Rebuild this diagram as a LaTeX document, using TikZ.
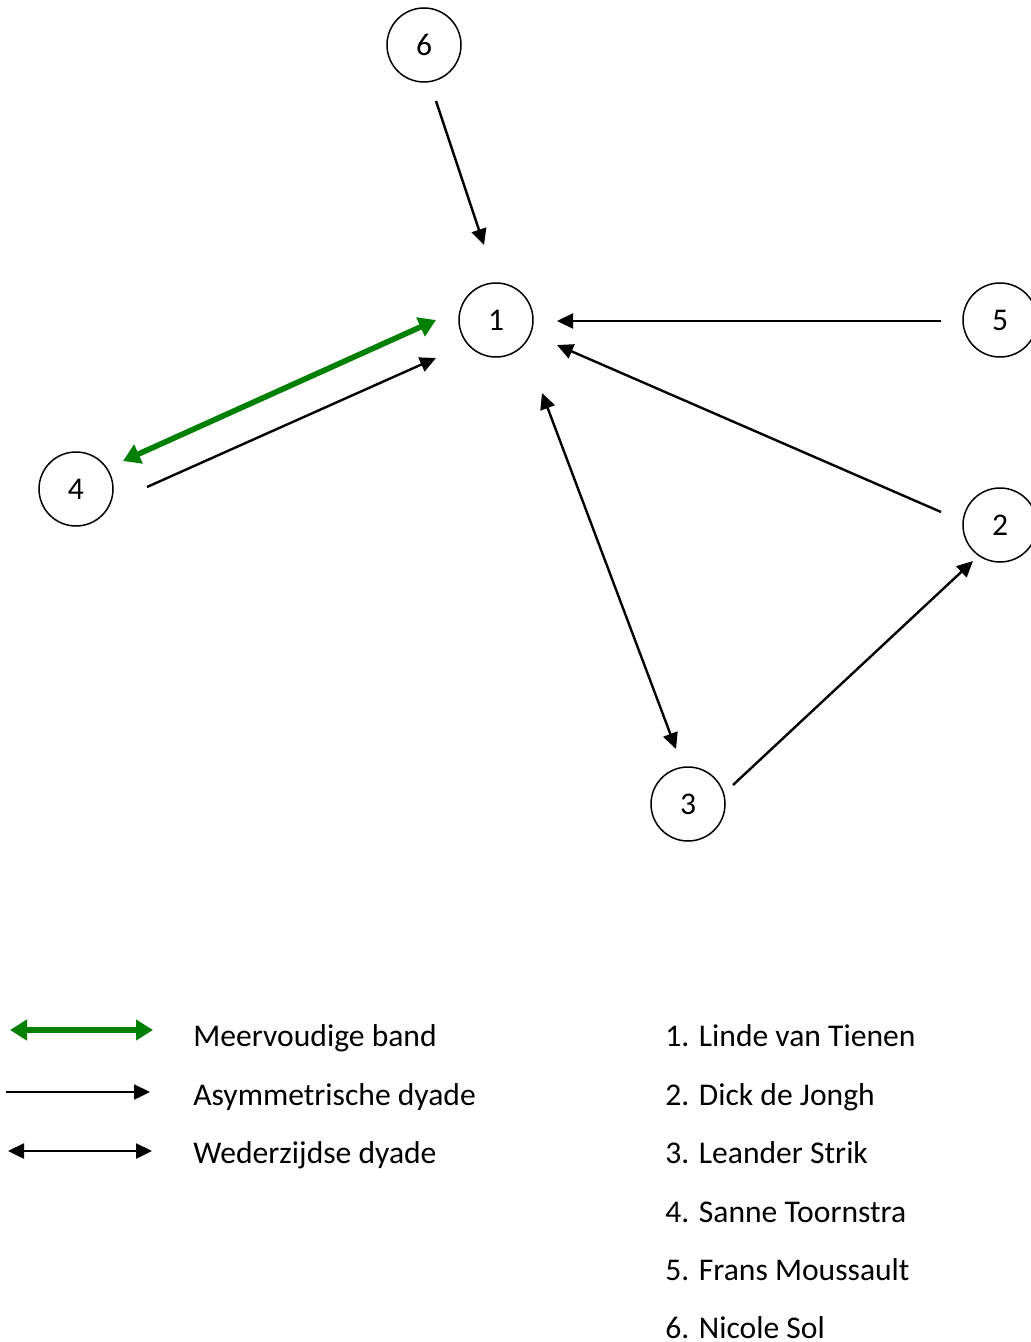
\documentclass[tikz,border=0pt]{standalone}
\usepackage{fontspec}
\setmainfont{Carlito}
\usepackage{tikz}
\usetikzlibrary{arrows.meta, calc}
\usetikzlibrary{positioning}
\definecolor{band_green}{RGB}{0,128,0}
\tikzstyle{person_node} = [
    circle, 
    draw=black, 
    line width=0.75pt, 
    align=center, 
    inner sep=0pt, 
    minimum size=37pt
]
\tikzstyle{asym} = [
    black, 
    line width=1.2pt, 
    -{Triangle[length=8pt, width=7.5pt]}
]
\tikzstyle{mutual} = [
    black, 
    line width=1.2pt, 
    {Triangle[length=8pt, width=7.5pt]}-{Triangle[length=8pt, width=7.5pt]}
]
\tikzstyle{multi} = [
    band_green, 
    line width=2.8pt, 
    {Triangle[length=8.5pt, width=10pt]}-{Triangle[length=8.5pt, width=10pt]}
]
\tikzstyle{legend_text} = [
    anchor=base west, 
    inner sep=0pt
]

\begin{document}
\begin{tikzpicture}[
    x=0.5pt, y=-0.5pt, 
    font=\fontsize{15.8}{19}\selectfont
]
\useasboundingbox (0,0) rectangle (1031,1342);

% the six persons
\node [person_node] (n1) at (496,320) {1};
\node [person_node] (n2) at (1000,525) {2};
\node [person_node] (n3) at (688,804) {3};
\node [person_node] (n4) at (76,489) {4};
\node [person_node] (n5) at (1000,320) {5};
\node [person_node] (n6) at (424,45) {6};

% ties
\draw [asym] ($(n6)+(12,56)$) -- ($(n1)+(-12,-75)$);
\draw [asym] ($(n5)+(-59,1)$) -- ($(n1)+(61,1)$);
\draw [asym] ($(n2)+(-59,-13)$) -- ($(n1)+(61,25)$);
\draw [asym] ($(n4)+(71,-2)$) -- ($(n1)+(-60,38)$);
\draw [multi] ($(n4)+(47,-28)$) -- ($(n1)+(-60,0)$);
\draw [mutual] ($(n1)+(46,73)$) -- ($(n3)+(-12,-55)$);
\draw [asym] ($(n3)+(45,-19)$) -- ($(n2)+(-27,36)$);

% legend
\coordinate (multi_a) at (10,1030);
\coordinate (multi_b) at (153,1030);
\coordinate (asym_a) at (6,1092);
\coordinate (asym_b) at (150,1092);
\coordinate (mutual_a) at (8,1151);
\coordinate (mutual_b) at (152,1151);
\draw [multi] (multi_a) -- (multi_b);
\draw [asym] (asym_a) -- (asym_b);
\draw [mutual] (mutual_a) -- (mutual_b);
\node [legend_text] (l_multi) at (193,1046) {Meervoudige band};
\node [legend_text] (l_asym) at (193,1105) {Asymmetrische dyade};
\node [legend_text] (l_mutual) at (193,1163) {Wederzijdse dyade};

% names
\node [legend_text] (p1) at (665,1046) {1. Linde van Tienen};
\node [legend_text] (p2) at (665,1105) {2. Dick de Jongh};
\node [legend_text] (p3) at (665,1163) {3. Leander Strik};
\node [legend_text] (p4) at (665,1222) {4. Sanne Toornstra};
\node [legend_text] (p5) at (665,1280) {5. Frans Moussault};
\node [legend_text] (p6) at (665,1338) {6. Nicole Sol};
\end{tikzpicture}
\end{document}
